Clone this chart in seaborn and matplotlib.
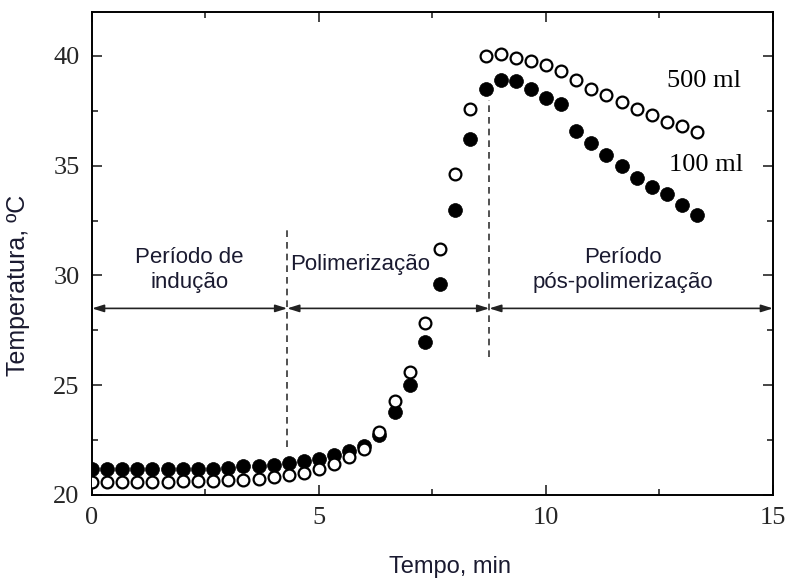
import matplotlib
matplotlib.use("Agg")
import matplotlib.pyplot as plt
import seaborn as sns
import pandas as pd
from matplotlib.ticker import MultipleLocator

# ---------------- data ----------------
time_min = [0.00, 0.33, 0.67, 1.00, 1.33, 1.67, 2.00, 2.33, 2.67, 3.00,
            3.33, 3.67, 4.00, 4.33, 4.67, 5.00, 5.33, 5.67, 6.00, 6.33,
            6.67, 7.00, 7.33, 7.67, 8.00, 8.33, 8.67, 9.00, 9.33, 9.67,
            10.00, 10.33, 10.67, 11.00, 11.33, 11.67, 12.00, 12.33, 12.67, 13.00,
            13.33]

temp_100ml = [21.2, 21.2, 21.2, 21.2, 21.2, 21.2, 21.2, 21.2, 21.2, 21.25,
              21.3, 21.3, 21.35, 21.45, 21.55, 21.65, 21.8, 22.0, 22.25, 22.75,
              23.8, 25.0, 26.95, 29.6, 33.0, 36.2, 38.5, 38.9, 38.85, 38.5,
              38.1, 37.8, 36.6, 36.05, 35.5, 35.0, 34.45, 34.05, 33.7, 33.2,
              32.75]

temp_500ml = [20.6, 20.6, 20.6, 20.6, 20.6, 20.6, 20.62, 20.65, 20.65, 20.68,
              20.7, 20.75, 20.8, 20.9, 21.0, 21.2, 21.4, 21.75, 22.1, 22.85,
              24.3, 25.6, 27.85, 31.2, 34.6, 37.6, 40.0, 40.1, 39.9, 39.75,
              39.6, 39.3, 38.9, 38.5, 38.2, 37.9, 37.6, 37.3, 37.0, 36.8,
              36.55]

series_labels = ["100 ml", "500 ml"]
x_ticks = [0, 5, 10, 15]
y_ticks = [20, 25, 30, 35, 40]

period_labels = ["Período de\nindução", "Polimerização", "Período\npós-polimerização"]
period_bounds = [0.0, 4.3, 8.75, 15.0]

df100 = pd.DataFrame({"Tempo": time_min, "Temp": temp_100ml})
df500 = pd.DataFrame({"Tempo": time_min, "Temp": temp_500ml})

# ---------------- style ----------------
sns.set_style("ticks")
plt.rcParams["font.family"] = ["Liberation Serif", "DejaVu Serif"]

SANS = ["Liberation Sans Narrow", "Liberation Sans", "DejaVu Sans"]
SERIF = ["Liberation Serif", "DejaVu Serif"]
TXT = "#1a1a30"

fig = plt.figure(figsize=(7.89, 5.86), dpi=100)
ax = fig.add_axes([0.1166, 0.1553, 0.8631, 0.8242])

sns.scatterplot(data=df100, x="Tempo", y="Temp", ax=ax, s=100, color="black",
                edgecolor="black", linewidth=0.5, zorder=3, legend=False)
sns.scatterplot(data=df500, x="Tempo", y="Temp", ax=ax, s=72, color="white",
                edgecolor="black", linewidth=1.6, zorder=4, legend=False)

ax.set_xlim(0, 15)
ax.set_ylim(20, 42)
ax.set_xticks(x_ticks)
ax.set_yticks(y_ticks)
ax.xaxis.set_minor_locator(MultipleLocator(2.5))
ax.yaxis.set_minor_locator(MultipleLocator(2.5))
ax.tick_params(which="both", direction="in", top=True, right=True, width=1.2)
ax.tick_params(which="major", length=7)
ax.tick_params(which="minor", length=4)
ax.tick_params(axis="y", pad=9)
ax.tick_params(axis="x", pad=9)
for lab in ax.get_xticklabels() + ax.get_yticklabels():
    lab.set_fontsize(19)
    lab.set_family(SERIF)
for sp in ax.spines.values():
    sp.set_linewidth(1.4)
    sp.set_color("black")

ax.set_xlabel("Tempo, min", fontsize=17, family=SANS, color=TXT)
ax.set_ylabel("Temperatura, ºC", fontsize=18, family=SANS, color=TXT)
ax.xaxis.set_label_coords(0.526, -0.126)
ax.yaxis.set_label_coords(-0.091, 0.435)

# period arrows
arrow_y = 28.5
for a, b in zip(period_bounds[:-1], period_bounds[1:]):
    ax.annotate("", xy=(b, arrow_y), xytext=(a, arrow_y),
                arrowprops=dict(arrowstyle="<|-|>,head_length=0.7,head_width=0.22",
                                color="#222222", lw=1.2, shrinkA=0, shrinkB=0),
                zorder=2)

# dashed separators
ax.plot([4.3, 4.3], [22.2, 32.2], ls=(0, (4, 3)), color="#333333", lw=1.2, zorder=2)
ax.plot([8.75, 8.75], [26.3, 38.0], ls=(0, (4, 3)), color="#333333", lw=1.2, zorder=2)

# period texts
ax.text(2.15, 30.25, period_labels[0], ha="center", va="center", fontsize=16,
        family=SANS, color=TXT, linespacing=1.25)
ax.text(5.9, 30.5, period_labels[1], ha="center", va="center", fontsize=16,
        family=SANS, color=TXT)
ax.text(11.7, 30.25, period_labels[2], ha="center", va="center", fontsize=16,
        family=SANS, color=TXT, linespacing=1.25)

# series labels
ax.text(12.66, 38.85, series_labels[1], ha="left", va="center", fontsize=19,
        family=SERIF, color="black")
ax.text(12.70, 35.05, series_labels[0], ha="left", va="center", fontsize=19,
        family=SERIF, color="black")

fig.savefig("out.png", dpi=100)
